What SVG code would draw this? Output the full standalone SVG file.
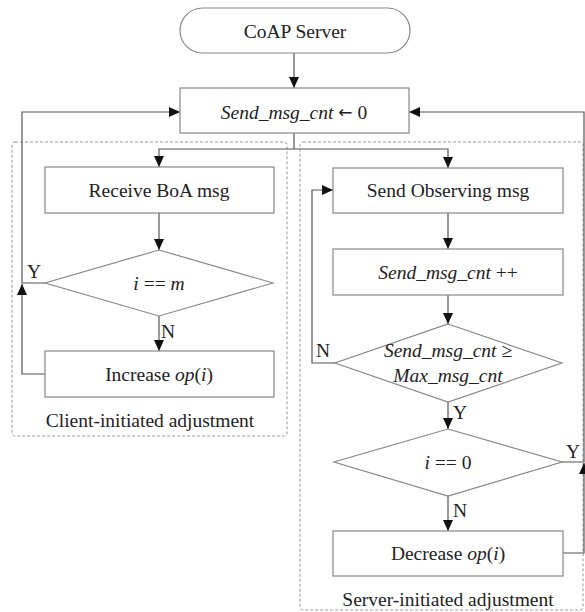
<svg xmlns="http://www.w3.org/2000/svg" width="585" height="612" viewBox="0 0 585 612">
<style>
text{font-family:"Liberation Serif","Times New Roman",serif;font-size:19.5px;fill:#222;text-anchor:middle;dominant-baseline:central}
.i{font-style:italic}
.box{fill:#fff;stroke:#888;stroke-width:1.2}
.dash{fill:none;stroke:#999;stroke-width:1;stroke-dasharray:3,2}
.c{fill:none;stroke:#555;stroke-width:1.2}
.ca{fill:none;stroke:#555;stroke-width:1.2;marker-end:url(#ah)}
</style>
<defs>
<marker id="ah" markerUnits="userSpaceOnUse" markerWidth="12" markerHeight="10" refX="11" refY="5" orient="auto" viewBox="0 0 12 10">
<path d="M0,0 L11,5 L0,10 z" fill="#111"/>
</marker>
</defs>
<g id="groups">
<rect id="client-group" class="dash" x="12" y="142" width="275" height="294" rx="3"/>
<rect id="server-group" class="dash" x="300" y="142" width="283" height="468" rx="3"/>
<text x="150" y="420">Client-initiated adjustment</text>
<text x="448" y="599">Server-initiated adjustment</text>
</g>
<g id="connectors">
<path class="ca" d="M294,53 V88"/>
<path class="c" d="M294,133 V149"/>
<path class="ca" d="M294,149 H159 V167"/>
<path class="ca" d="M294,149 H448 V168"/>
<path class="ca" d="M159,213 V250"/>
<path class="ca" d="M159,316 V351"/>
<path class="ca" d="M45,374 H22 V284"/>
<path class="ca" d="M45,283 H22 V112 H180"/>
<path class="ca" d="M448,213 V249"/>
<path class="ca" d="M448,295 V324"/>
<path class="ca" d="M335,363 H312 V190 H333"/>
<path class="ca" d="M448,402 V429"/>
<path class="ca" d="M448,496 V531"/>
<path class="ca" d="M563,553 H584 V463"/>
<path class="ca" d="M562,462 H584 V112 H409"/>
<text x="34" y="271">Y</text>
<text x="168" y="331">N</text>
<text x="323" y="350">N</text>
<text x="460" y="412">Y</text>
<text x="460" y="510">N</text>
<text x="573" y="451">Y</text>
</g>
<g id="coap-server">
<rect class="box" x="180" y="8" width="230" height="45" rx="22.5"/>
<text x="295" y="31">CoAP Server</text>
</g>
<g id="reset-counter">
<rect class="box" x="180" y="88" width="229" height="45"/>
<text x="294" y="112"><tspan class="i">Send_msg_cnt</tspan> <tspan style="font-family:'DejaVu Sans',sans-serif;font-size:17px">←</tspan> 0</text>
</g>
<g id="receive-boa">
<rect class="box" x="45" y="167" width="229" height="46"/>
<text x="159" y="190">Receive BoA msg</text>
</g>
<g id="check-m">
<polygon class="box" points="159,250 273,283 159,316 45,283"/>
<text x="159" y="283"><tspan class="i">i</tspan> == <tspan class="i">m</tspan></text>
</g>
<g id="increase-op">
<rect class="box" x="45" y="351" width="229" height="46"/>
<text x="159" y="374">Increase <tspan class="i">op</tspan>(<tspan class="i">i</tspan>)</text>
</g>
<g id="send-observing">
<rect class="box" x="333" y="168" width="230" height="45"/>
<text x="448" y="190">Send Observing msg</text>
</g>
<g id="inc-counter">
<rect class="box" x="333" y="249" width="230" height="46"/>
<text x="448" y="272"><tspan class="i">Send_msg_cnt</tspan> ++</text>
</g>
<g id="check-max">
<polygon class="box" points="448,324 562,363 448,402 335,363"/>
<text x="448" y="350" class="i">Send_msg_cnt ≥</text>
<text x="448" y="375" class="i">Max_msg_cnt</text>
</g>
<g id="check-zero">
<polygon class="box" points="448,429 562,462 448,496 334,462"/>
<text x="448" y="462"><tspan class="i">i</tspan> == 0</text>
</g>
<g id="decrease-op">
<rect class="box" x="333" y="531" width="230" height="45"/>
<text x="448" y="553">Decrease <tspan class="i">op</tspan>(<tspan class="i">i</tspan>)</text>
</g>
</svg>
